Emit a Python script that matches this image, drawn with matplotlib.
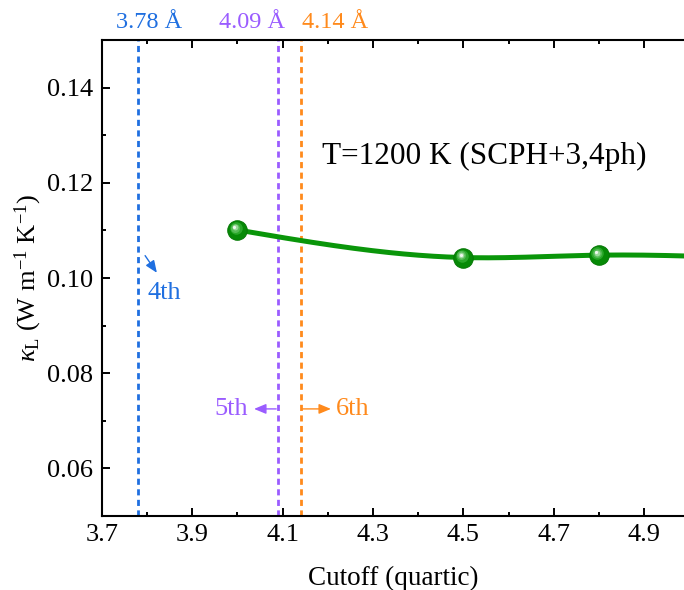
import numpy as np
import matplotlib
matplotlib.use('Agg')
import matplotlib.pyplot as plt
import matplotlib.transforms as mtransforms
from matplotlib.ticker import MultipleLocator

plt.rcParams['font.family'] = ['Liberation Serif', 'DejaVu Serif']
plt.rcParams['mathtext.fontset'] = 'custom'
plt.rcParams['mathtext.rm'] = 'Liberation Serif'
plt.rcParams['mathtext.it'] = 'Liberation Serif:italic'

# ── data ─────────────────────────────────────────────────────────────
cutoff = [4.0, 4.5, 4.8, 5.1]
kappa = [0.1101, 0.1043, 0.1048, 0.1043]
n_shown = 3  # markers visible inside the frame

vline_x = [3.78, 4.09, 4.14]
vline_lbl = ['3.78 Å', '4.09 Å', '4.14 Å']
vline_col = ['#1f6fe0', '#9a5cff', '#ff8a1c']
order_lbl = ['4th', '5th', '6th']

GREEN = '#0a960a'


def natural_spline(x, y, xs):
    x = np.asarray(x, float); y = np.asarray(y, float)
    n = len(x); h = np.diff(x)
    A = np.zeros((n, n)); r = np.zeros(n)
    A[0, 0] = A[-1, -1] = 1
    for i in range(1, n - 1):
        A[i, i - 1] = h[i - 1]; A[i, i] = 2 * (h[i - 1] + h[i]); A[i, i + 1] = h[i]
        r[i] = 3 * ((y[i + 1] - y[i]) / h[i] - (y[i] - y[i - 1]) / h[i - 1])
    c = np.linalg.solve(A, r)
    b = (y[1:] - y[:-1]) / h - h * (2 * c[:-1] + c[1:]) / 3
    d = (c[1:] - c[:-1]) / (3 * h)
    k = np.clip(np.searchsorted(x, xs) - 1, 0, n - 2)
    t = xs - x[k]
    return y[k] + b[k] * t + c[k] * t ** 2 + d[k] * t ** 3


fig = plt.figure(figsize=(6.84, 5.90), dpi=100, facecolor='white')
ax = fig.add_axes([0.1487, 0.1254, 0.8513, 0.8068])
ax.set_xlim(3.7, 4.988)
ax.set_ylim(0.05, 0.15)

# dashed cutoff lines + labels above frame
for xv, lb, col in zip(vline_x, vline_lbl, vline_col):
    ax.axvline(xv, color=col, ls=(0, (2.2, 1.6)), lw=2.0, zorder=2)
ax.text(3.805, 0.1515, vline_lbl[0], color=vline_col[0], fontsize=17.5, ha='center', va='bottom')
ax.text(4.033, 0.1515, vline_lbl[1], color=vline_col[1], fontsize=17.5, ha='center', va='bottom')
ax.text(4.216, 0.1515, vline_lbl[2], color=vline_col[2], fontsize=17.5, ha='center', va='bottom')

# order annotations
arw = dict(arrowstyle='-|>,head_length=0.6,head_width=0.25', lw=1.0,
           mutation_scale=12, shrinkA=0, shrinkB=0)
ax.annotate('', xy=(3.822, 0.1011), xytext=(3.796, 0.1047),
            arrowprops=dict(arw, color=vline_col[0]))
ax.text(3.838, 0.0969, order_lbl[0], color=vline_col[0], fontsize=19, ha='center', va='center')
ax.annotate('', xy=(4.037, 0.0725), xytext=(4.086, 0.0725),
            arrowprops=dict(arw, color=vline_col[1]))
ax.text(3.986, 0.0725, order_lbl[1], color=vline_col[1], fontsize=19, ha='center', va='center')
ax.annotate('', xy=(4.207, 0.0725), xytext=(4.143, 0.0725),
            arrowprops=dict(arw, color=vline_col[2]))
ax.text(4.256, 0.0725, order_lbl[2], color=vline_col[2], fontsize=19, ha='center', va='center')

# smooth curve + glossy markers
xs = np.linspace(cutoff[0], cutoff[-1], 300)
ax.plot(xs, natural_spline(cutoff, kappa, xs), color=GREEN, lw=3.6, zorder=4,
        solid_capstyle='round')
cx, cy = cutoff[:n_shown], kappa[:n_shown]
ax.plot(cx, cy, 'o', ms=14, color='#068a06', mec='#067a06', mew=0.8, zorder=5)
for i, (s, c) in enumerate([(9, '#2aa82a'), (6.5, '#55bb55'), (4.2, '#9ad89a'), (2.3, '#eef8ee')]):
    off = mtransforms.offset_copy(ax.transData, fig=fig, x=-1.3 - 0.25 * i, y=1.3 + 0.25 * i, units='points')
    ax.plot(cx, cy, 'o', ms=s, color=c, mew=0, transform=off, zorder=6 + i)

ax.text(4.187, 0.1255, 'T=1200 K (SCPH+3,4ph)', fontsize=22.5, ha='left', va='center')

# axes styling
ax.xaxis.set_minor_locator(MultipleLocator(0.1))
ax.yaxis.set_minor_locator(MultipleLocator(0.01))
ax.set_xticks(np.arange(3.7, 4.95, 0.2))
ax.set_xticklabels(['3.7', '3.9', '4.1', '4.3', '4.5', '4.7', '4.9'])
ax.set_yticks([0.06, 0.08, 0.10, 0.12, 0.14])
ax.set_yticklabels(['0.06', '0.08', '0.10', '0.12', '0.14'])
ax.tick_params(which='both', direction='in', top=True, right=False, width=1.4, labelsize=19)
ax.tick_params(which='major', length=5.5, pad=6)
ax.tick_params(which='minor', length=3)
for s in ['left', 'bottom', 'top']:
    ax.spines[s].set_linewidth(1.5)
ax.spines['right'].set_visible(False)

ax.set_xlabel('Cutoff (quartic)', fontsize=19.5, labelpad=14)
ax.set_ylabel(r'$\kappa_{\mathrm{L}}$ (W m$^{\mathrm{-1}}$ K$^{\mathrm{-1}}$)', fontsize=19, labelpad=2)

fig.savefig('out.png', dpi=100, facecolor='white')
